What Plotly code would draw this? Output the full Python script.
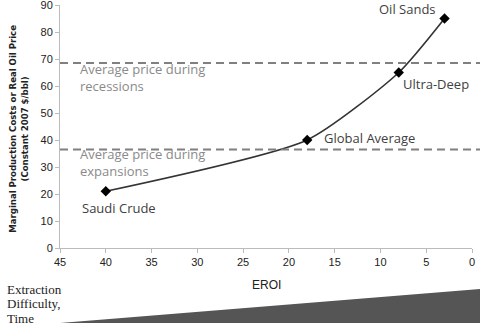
import plotly.graph_objects as go

# Data
eroi = [40, 18, 8, 3]
price = [21, 40, 65, 85]
point_labels = ["Saudi Crude", "Global Average", "Ultra-Deep", "Oil Sands"]
recession_price = 68.5
expansion_price = 36.5
x_ticks = [45, 40, 35, 30, 25, 20, 15, 10, 5, 0]
y_ticks = [0, 10, 20, 30, 40, 50, 60, 70, 80, 90]
bottom_lines = ["Extraction", "Difficulty,", "Time"]

fig = go.Figure()
fig.add_trace(go.Scatter(
    x=eroi, y=price, mode="lines+markers",
    line=dict(color="#333333", width=1.6, shape="spline", smoothing=0.6),
    marker=dict(symbol="diamond", size=8, color="black"),
    showlegend=False, hoverinfo="skip"))

# Dashed average price lines
for yv in [recession_price, expansion_price]:
    fig.add_shape(type="line", xref="paper", yref="y", x0=0, x1=1.02, y0=yv, y1=yv,
                  line=dict(color="#808080", width=2, dash="8px,5px"))

# Wedge at the bottom
fig.add_shape(type="path", xref="paper", yref="paper",
              path="M 0 -0.309 L 1.02 -0.169 L 1.02 -0.309 Z",
              fillcolor="#555555", line=dict(width=0))

ann_font = dict(family="Open Sans, Lato, sans-serif", size=13)
avg_labels = [("Average price during<br>recessions", recession_price - 5.2),
              ("Average price during<br>expansions", expansion_price - 5.0)]
for txt, yc in avg_labels:
    fig.add_annotation(x=43.0, y=yc, text=txt, xref="x", yref="y",
                       xanchor="left", yanchor="middle", align="left", showarrow=False,
                       font=dict(ann_font, color="#8a8a8a"))

label_x = [38.6, 16.4, 7.75, 3.7]
label_y = [15, 40.7, 60.7, 88.5]
label_anchor = ["center", "left", "left", "right"]
for xv, yv, lab, xa in zip(label_x, label_y, point_labels, label_anchor):
    fig.add_annotation(x=xv, y=yv, text=lab, xref="x", yref="y", xanchor=xa,
                       yanchor="middle", showarrow=False,
                       font=dict(ann_font, color="#404040"))

# Axis titles
fig.add_annotation(x=-0.1, y=0.49, xref="paper", yref="paper",
                   text="<b>Marginal Production Costs or Real Oil Price<br>(Constant 2007 $/bbl)</b>",
                   textangle=-90, showarrow=False, xanchor="center", yanchor="middle",
                   font=dict(family="Liberation Sans Narrow, DejaVu Sans Condensed, Liberation Sans, Arial",
                             size=9.5, color="#222222"))
fig.add_annotation(x=0.5, y=-0.152, xref="paper", yref="paper", text="EROI",
                   showarrow=False, xanchor="center", yanchor="middle",
                   font=dict(family="Liberation Sans, Arial", size=12, color="#222222"))
for i, t in enumerate(bottom_lines):
    fig.add_annotation(x=-0.133, y=[-0.169, -0.230, -0.292][i], xref="paper", yref="paper",
                       text=t, showarrow=False, xanchor="left", yanchor="middle",
                       font=dict(family="Liberation Serif, Times New Roman, serif", size=13, color="#222222"))

fig.update_layout(
    width=480, height=326,
    margin=dict(l=60, r=8, t=5, b=78),
    paper_bgcolor="white", plot_bgcolor="white",
    xaxis=dict(range=[45, 0], tickvals=x_ticks, showgrid=False, zeroline=False,
               showline=True, linecolor="#bbbbbb", linewidth=1,
               ticks="outside", ticklen=4, tickcolor="#bbbbbb",
               ticklabeloverflow="allow", automargin=False,
               tickfont=dict(family="Liberation Sans, Arial", size=11, color="#222222")),
    yaxis=dict(range=[0, 90], tickvals=y_ticks, showgrid=False, zeroline=False,
               showline=True, linecolor="#bbbbbb", linewidth=1,
               ticks="outside", ticklen=4, tickcolor="#bbbbbb",
               ticklabeloverflow="allow", automargin=False,
               tickfont=dict(family="Liberation Sans, Arial", size=11, color="#222222")),
)

fig.write_html("out.html")
